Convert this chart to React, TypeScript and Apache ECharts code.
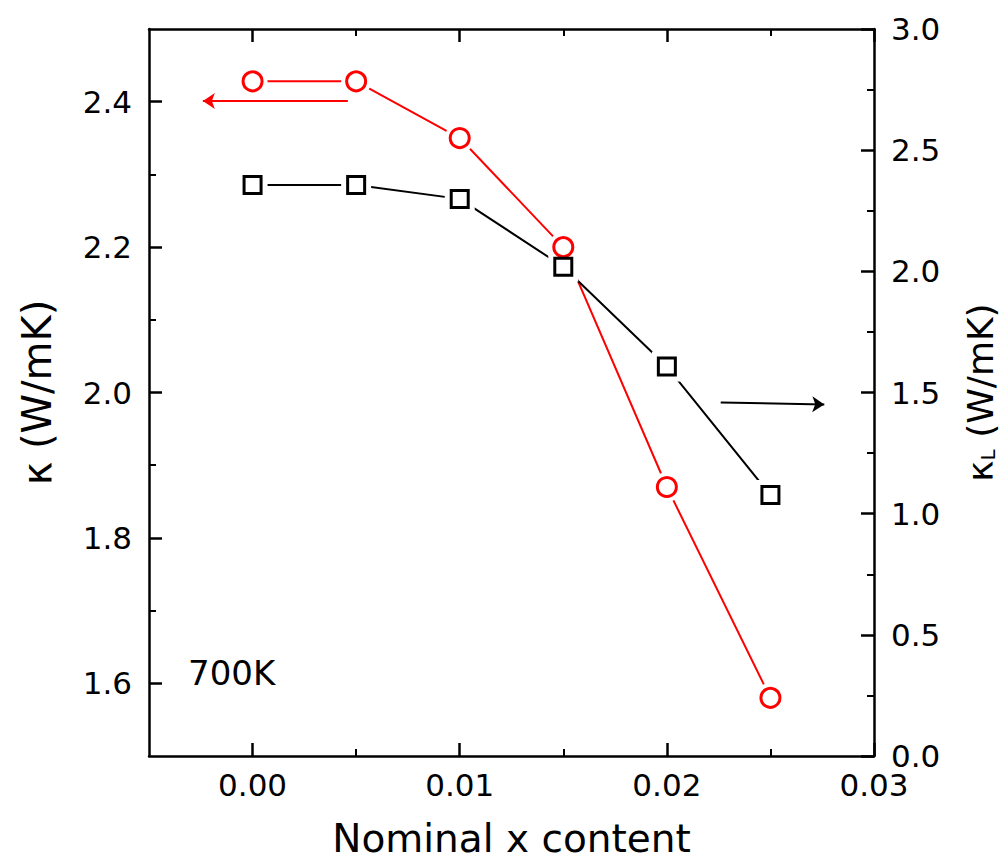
import React, { useEffect, useRef } from "react";
import * as echarts from "echarts";

const FONT = "DejaVu Sans";

// Nominal x content
const xValues = [0, 0.005, 0.01, 0.015, 0.02, 0.025];
// total thermal conductivity kappa (left axis)
const kappaTotal = [2.428, 2.428, 2.35, 2.2, 1.87, 1.58];
// lattice thermal conductivity kappa_L (right axis)
const kappaLattice = [2.356, 2.356, 2.299, 2.019, 1.607, 1.077];

const xMajorTicks = [0, 0.01, 0.02, 0.03];
const xMinorTicks = [0.005, 0.015, 0.025];
const leftMajorTicks = [1.6, 1.8, 2.0, 2.2, 2.4];
const leftMinorTicks = [1.7, 1.9, 2.1, 2.3];

// annotation arrows [start, end] in data coordinates
const redArrow = [[0.0046, 2.401], [-0.0024, 2.401]];
const blackArrow = [[0.0226, 1.459], [0.0276, 1.4505]];

const RED = "#ff0000";
const BLACK = "#000000";

export default function App() {
  const ref = useRef<HTMLDivElement>(null);

  useEffect(() => {
    if (!ref.current) return;
    const chart = echarts.init(ref.current, undefined, { renderer: "svg" });

    const redData = xValues.map((x, i) => [x, kappaTotal[i]]);
    const blackData = xValues.map((x, i) => [x, kappaLattice[i]]);

    const axisLine = { show: true, onZero: false, lineStyle: { color: BLACK, width: 2.5 } };
    const noLine = { show: false, onZero: false };
    const labelStyle = { color: BLACK, fontSize: 31, fontFamily: FONT };

    const xBase = { type: "value", min: -0.005, max: 0.03, splitLine: { show: false } };
    const yLeftBase = { type: "value", min: 1.5, max: 2.5, splitLine: { show: false } };

    const option: any = {
      animation: false,
      backgroundColor: "#ffffff",
      grid: {
        left: 149,
        top: 29,
        width: 725,
        height: 727,
        containLabel: false,
        outerBoundsMode: "none",
      },
      xAxis: [
        {
          ...xBase,
          position: "bottom",
          axisLine,
          axisTick: { show: true, inside: true, length: 13, lineStyle: { color: BLACK, width: 2.5 }, customValues: xMajorTicks },
          axisLabel: { ...labelStyle, margin: 13, customValues: xMajorTicks, formatter: (v: number) => v.toFixed(2) },
          name: "Nominal x content",
          nameLocation: "middle",
          nameGap: 62,
          nameTextStyle: { color: BLACK, fontSize: 39, lineHeight: 40, fontFamily: FONT },
        },
        {
          ...xBase,
          position: "bottom",
          offset: 0,
          axisLine: noLine,
          axisTick: { show: true, inside: true, length: 7, lineStyle: { color: BLACK, width: 2 }, customValues: xMinorTicks },
          axisLabel: { show: false },
        },
        {
          ...xBase,
          position: "top",
          offset: 0,
          axisLine,
          axisTick: { show: true, inside: true, length: 13, lineStyle: { color: BLACK, width: 2.5 }, customValues: xMajorTicks },
          axisLabel: { show: false },
        },
        {
          ...xBase,
          position: "top",
          offset: 0,
          axisLine: noLine,
          axisTick: { show: true, inside: true, length: 7, lineStyle: { color: BLACK, width: 2 }, customValues: xMinorTicks },
          axisLabel: { show: false },
        },
      ],
      yAxis: [
        {
          ...yLeftBase,
          position: "left",
          axisLine,
          axisTick: { show: true, inside: true, length: 13, lineStyle: { color: BLACK, width: 2.5 }, customValues: leftMajorTicks },
          axisLabel: { ...labelStyle, margin: 17, customValues: leftMajorTicks, formatter: (v: number) => v.toFixed(1) },
          name: "κ (W/mK)",
          nameLocation: "middle",
          nameRotate: 90,
          nameGap: 92,
          nameTextStyle: { color: BLACK, fontSize: 40, fontFamily: FONT },
        },
        {
          ...yLeftBase,
          position: "left",
          offset: 0,
          axisLine: noLine,
          axisTick: { show: true, inside: true, length: 7, lineStyle: { color: BLACK, width: 2 }, customValues: leftMinorTicks },
          axisLabel: { show: false },
        },
        {
          type: "value",
          position: "right",
          offset: 0,
          min: 0,
          max: 3,
          interval: 0.5,
          splitLine: { show: false },
          axisLine,
          axisTick: { show: true, inside: true, length: 13, lineStyle: { color: BLACK, width: 2.5 } },
          minorTick: { show: true, splitNumber: 2, length: 7, lineStyle: { color: BLACK, width: 2 } },
          axisLabel: { ...labelStyle, margin: 17, formatter: (v: number) => v.toFixed(1) },
          name: "{k|κ}{s|L} (W/mK)",
          nameLocation: "middle",
          nameRotate: 90,
          nameGap: 88,
          nameTextStyle: {
            color: BLACK,
            fontSize: 36,
            fontFamily: FONT,
            padding: [0, 0, 0, 0],
            rich: {
              k: { fontSize: 36, fontFamily: FONT, color: BLACK, lineHeight: 36 },
              s: { fontSize: 20, fontFamily: FONT, color: BLACK, verticalAlign: "bottom", lineHeight: 36, padding: [14, 0, 0, 0] },
            },
          },
        },
      ],
      series: [
        {
          type: "line",
          name: "kappa",
          xAxisIndex: 0,
          yAxisIndex: 0,
          data: redData,
          symbol: "none",
          z: 2,
          lineStyle: { color: RED, width: 2 },
          markLine: {
            silent: true,
            symbol: ["none", "arrow"],
            symbolSize: 12,
            label: { show: false },
            lineStyle: { color: RED, width: 2, type: "solid" },
            data: [[{ coord: redArrow[0] }, { coord: redArrow[1] }]],
          },
        },
        {
          type: "line",
          name: "kappaL",
          xAxisIndex: 0,
          yAxisIndex: 2,
          data: blackData,
          symbol: "none",
          z: 2,
          lineStyle: { color: BLACK, width: 2 },
          markLine: {
            silent: true,
            symbol: ["none", "arrow"],
            symbolSize: 12,
            label: { show: false },
            lineStyle: { color: BLACK, width: 2, type: "solid" },
            data: [[{ coord: blackArrow[0] }, { coord: blackArrow[1] }]],
          },
        },
        {
          type: "scatter",
          xAxisIndex: 0,
          yAxisIndex: 0,
          data: redData,
          symbol: "circle",
          symbolSize: 30,
          silent: true,
          z: 3,
          itemStyle: { color: "#ffffff", opacity: 1 },
        },
        {
          type: "scatter",
          xAxisIndex: 0,
          yAxisIndex: 2,
          data: blackData,
          symbol: "rect",
          symbolSize: 30,
          silent: true,
          z: 3,
          itemStyle: { color: "#ffffff", opacity: 1 },
        },
        {
          type: "scatter",
          xAxisIndex: 0,
          yAxisIndex: 0,
          data: redData,
          symbol: "circle",
          symbolSize: 19,
          z: 4,
          itemStyle: { color: "#ffffff", borderColor: RED, borderWidth: 3, opacity: 1 },
        },
        {
          type: "scatter",
          xAxisIndex: 0,
          yAxisIndex: 2,
          data: blackData,
          symbol: "rect",
          symbolSize: 17,
          z: 4,
          itemStyle: { color: "#ffffff", borderColor: BLACK, borderWidth: 3, opacity: 1 },
        },
      ],
      graphic: [
        {
          type: "text",
          left: 188,
          top: 656,
          style: { text: "700K", fill: BLACK, fontSize: 34, fontFamily: FONT },
        },
      ],
    };

    chart.setOption(option);
    return () => chart.dispose();
  }, []);

  return (
    <div
      ref={ref}
      style={{ position: "absolute", left: 0, top: 0, width: 1008, height: 860 }}
    />
  );
}
